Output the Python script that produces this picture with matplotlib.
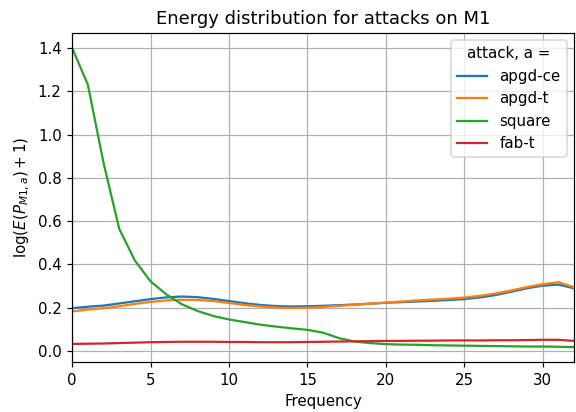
import numpy as np
import matplotlib
matplotlib.use('Agg')
import matplotlib.pyplot as plt

###########################################################

freq = np.arange(33)

apgd_ce = [0.198, 0.205, 0.210, 0.220, 0.230, 0.240, 0.248, 0.252, 0.249, 0.241,
           0.231, 0.221, 0.213, 0.208, 0.206, 0.207, 0.209, 0.212, 0.215, 0.219,
           0.223, 0.226, 0.229, 0.232, 0.236, 0.240, 0.248, 0.259, 0.274, 0.290,
           0.302, 0.307, 0.290]

apgd_t = [0.183, 0.192, 0.198, 0.207, 0.218, 0.227, 0.234, 0.237, 0.236, 0.231,
          0.222, 0.213, 0.206, 0.201, 0.199, 0.200, 0.204, 0.209, 0.214, 0.219,
          0.224, 0.229, 0.234, 0.238, 0.242, 0.247, 0.255, 0.266, 0.280, 0.296,
          0.309, 0.318, 0.295]

square = [1.400, 1.231, 0.870, 0.565, 0.418, 0.322, 0.262, 0.216, 0.185, 0.162,
          0.146, 0.134, 0.122, 0.113, 0.105, 0.098, 0.085, 0.060, 0.044, 0.037,
          0.032, 0.030, 0.029, 0.027, 0.026, 0.025, 0.024, 0.023, 0.022, 0.021,
          0.021, 0.020, 0.018]

fab_t = [0.033, 0.034, 0.035, 0.037, 0.039, 0.041, 0.042, 0.043, 0.043, 0.043,
         0.042, 0.042, 0.041, 0.041, 0.041, 0.042, 0.043, 0.044, 0.045, 0.046,
         0.047, 0.047, 0.048, 0.048, 0.049, 0.049, 0.049, 0.050, 0.050, 0.051,
         0.052, 0.052, 0.047]

attacks = {'apgd-ce': apgd_ce, 'apgd-t': apgd_t, 'square': square, 'fab-t': fab_t}

###########################################################

# rendered a bit larger than 100 dpi, same pixel size
fig, ax = plt.subplots(figsize=(5.77 / 1.08, 4.12 / 1.08), dpi=108)
fig.subplots_adjust(left=0.125, right=0.995, top=0.92, bottom=0.121)

for name, vals in attacks.items():
    ax.plot(freq, vals, label=name)

ax.set_xlim(0, 32)
ax.set_title('Energy distribution for attacks on M1')
ax.set_xlabel('Frequency')
ax.set_ylabel(r'$\log(E(P_{M1,a})+1)$')
ax.grid(True)
ax.legend(title='attack, a =', loc='upper right')

fig.savefig('out.png')
